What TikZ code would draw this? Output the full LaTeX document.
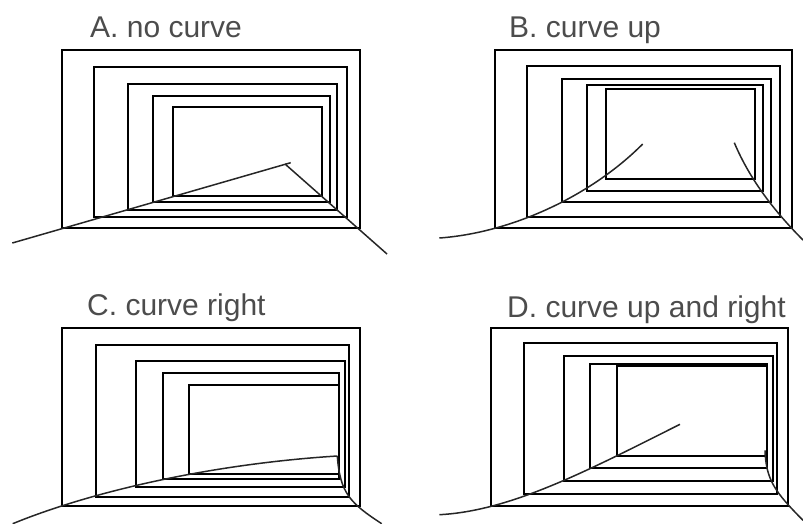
\documentclass[tikz,border=0pt]{standalone}
\usepackage{fontspec}
\setmainfont{Liberation Sans}
\tikzset{
  frame/.style={draw=black,line width=2pt},
  rail/.style={draw=black!85,line width=1.5pt},
  title/.style={anchor=base west,inner sep=0pt,text=black!70,font=\fontsize{30}{32}\selectfont}
}
\newcommand{\fr}[4]{\draw[frame] (#1,#3) rectangle (#2,#4);}
\begin{document}
\begin{tikzpicture}[x=1pt,y=-1pt]
\useasboundingbox (0,0) rectangle (803,524);
\clip (0,0) rectangle (803,524);
% Panel A
\node[title] (ta) at (90,37.3) {A. no curve};
\fr{62}{360}{50}{228}
\fr{94}{347}{67}{217}
\fr{128}{337}{84}{210}
\fr{153}{330}{96}{202}
\fr{173}{322}{107}{196}
\draw[rail] (12.3,243) -- (290.7,162.7);
\draw[rail] (285,164) -- (387,254);
% Panel B
\node[title] (tb) at (509,37.3) {B. curve up};
\fr{495}{792}{50}{228}
\fr{527}{780}{66}{217}
\fr{562}{771}{79}{202}
\fr{587}{763}{85}{191}
\fr{606}{755}{89}{179}
\draw[rail] (439.3,238) .. controls (510,233) and (590,197) .. (642.7,144);
\draw[rail] (734.3,142.7) .. controls (750,180) and (775,212) .. (803,240);
% Panel C
\node[title] (tc) at (87,315) {C. curve right};
\fr{62}{360}{328}{506}
\fr{96}{349}{345}{497}
\fr{136}{345}{361}{487}
\fr{163}{339}{373}{479}
\fr{189}{339}{385}{474}
\draw[rail] (12.7,523.7) .. controls (90,492) and (210,464) .. (337.3,456);
\draw[rail] (337.3,456) .. controls (340,493) and (350,503) .. (381.7,523.7);
% Panel D
\node[title] (td) at (507,317) {D. curve up and right};
\fr{491}{788}{328}{506}
\fr{524}{777}{343}{494}
\fr{564}{773}{356}{481}
\fr{590}{767}{364}{468}
\fr{617}{767}{366}{456}
\draw[rail] (439.3,514.7) .. controls (510,511) and (585,472) .. (680,424.3);
\draw[rail] (765,450.3) .. controls (766,480) and (775,492) .. (803,520.3);
\end{tikzpicture}
\end{document}
